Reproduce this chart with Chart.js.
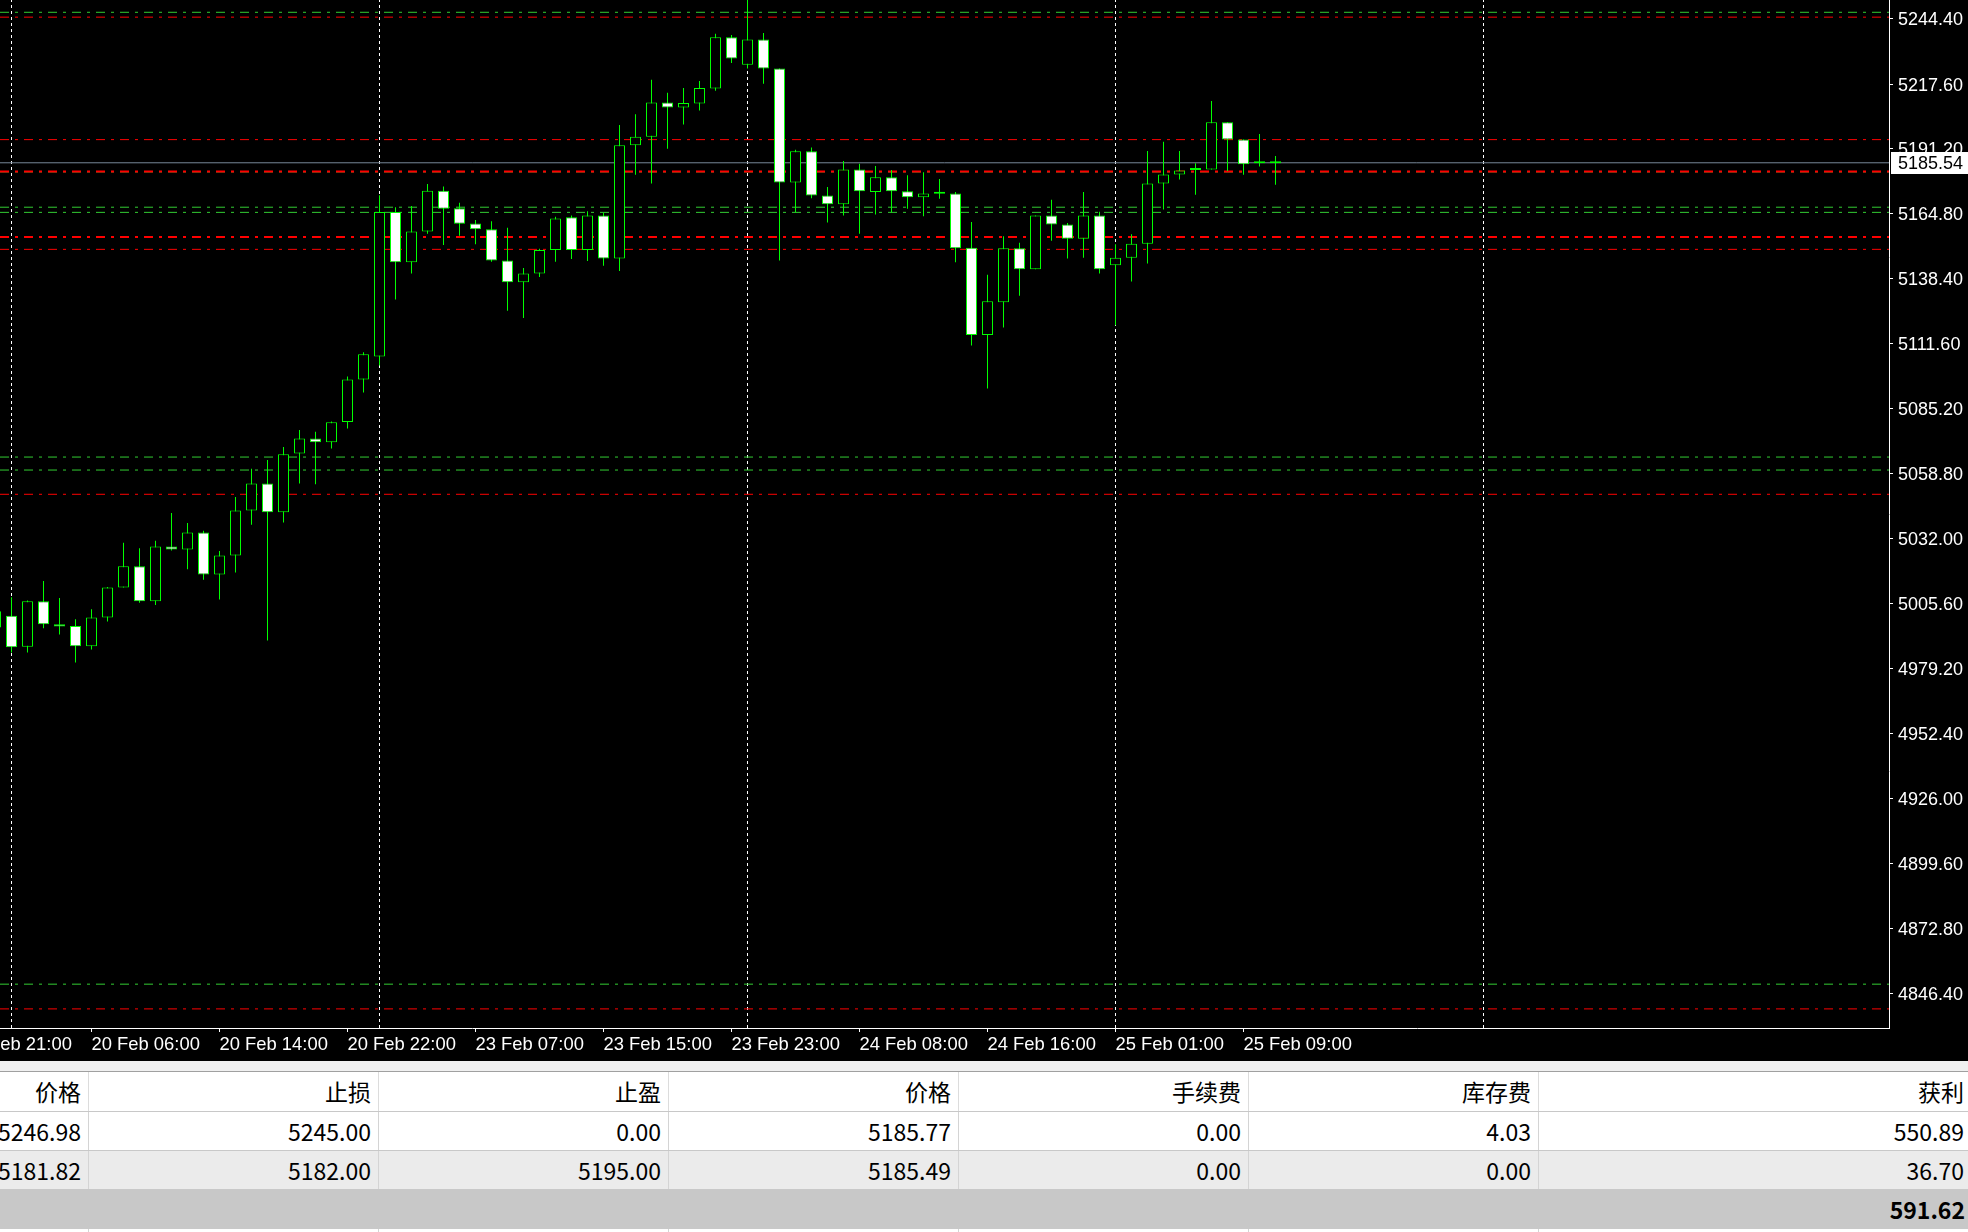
<!DOCTYPE html>
<html>
<head>
<meta charset="utf-8">
<script src="https://cdn.jsdelivr.net/npm/chart.js@4.4.1/dist/chart.umd.min.js"></script>
<style>
  html, body { margin: 0; padding: 0; background: #fff; overflow: hidden; }
  #wrap { position: absolute; left: 0; top: 0; width: 1968px; height: 1061px; background: #000; }
  #band { position: absolute; left: 0; top: 1061px; width: 1968px; height: 10px; background: #f0f0f0; border-bottom: 1px solid #a0a0a0; }
  #grid { position: absolute; left: 0; top: 1072px; width: 1968px; height: 160px; overflow: hidden; background: #fff;
          font-family: "Noto Sans CJK SC", sans-serif; font-size: 23px; color: #000; }
  .row { position: absolute; left: -201px; display: flex; width: 2173px; }
  .cell { flex: none; width: 290px; box-sizing: border-box; text-align: right; padding-right: 7px; white-space: nowrap; }
  .cell:last-child { width: 433px; }
  .hdr .cell { border-right: 1px solid #dcdcdc; }
  .dat .cell { border-right: 1px solid #d4d4d4; }
  .tot .cell { font-weight: bold; }
</style>
</head>
<body>
<div id="wrap"><canvas id="price-chart" width="1968" height="1061"></canvas></div>
<div id="band"></div>
<div id="grid"></div>

<script>
// ===== chart data =====

const FIRST_BAR = -1;   // bar index of the first candle (partly off screen)

const opens = [
  4995.8, 5000.6, 4988.0, 5006.5, 4997.1, 4996.4, 4988.2, 4999.9, 5012.1, 5020.8,
  5006.5, 5028.9, 5027.7, 5034.6, 5017.4, 5025.2, 5043.6, 5054.6, 5042.9, 5066.8,
  5073.0, 5071.4, 5079.7, 5097.1, 5106.5, 5165.4, 5144.9, 5157.5, 5174.1, 5167.0,
  5160.8, 5158.4, 5145.6, 5136.8, 5140.3, 5149.9, 5163.3, 5149.9, 5164.0, 5146.5,
  5192.7, 5196.2, 5210.2, 5208.1, 5209.7, 5215.9, 5236.8, 5225.6, 5235.9, 5224.0,
  5177.5, 5190.2, 5172.2, 5168.6, 5182.8, 5173.6, 5179.6, 5173.9, 5171.5, 5172.9,
  5173.0, 5150.9, 5115.2, 5128.6, 5150.6, 5142.1, 5164.0, 5160.3, 5154.5, 5164.0,
  5143.7, 5146.8, 5152.5, 5177.1, 5180.8, 5182.6, 5182.8, 5202.1, 5195.0, 5185.3,
  5185.4
];
const highs = [
  5004.0, 5008.2, 5006.8, 5014.8, 5007.9, 4999.2, 5003.3, 5012.3, 5030.4, 5028.2,
  5031.2, 5042.6, 5038.5, 5035.3, 5027.0, 5049.1, 5060.6, 5064.2, 5069.5, 5076.4,
  5075.7, 5079.9, 5098.3, 5108.2, 5172.3, 5167.4, 5167.9, 5176.9, 5175.9, 5169.2,
  5162.2, 5161.7, 5159.0, 5142.6, 5150.4, 5163.5, 5164.0, 5165.8, 5165.1, 5201.0,
  5205.4, 5219.4, 5214.1, 5216.1, 5218.9, 5238.2, 5237.7, 5253.0, 5238.5, 5224.0,
  5190.9, 5191.8, 5175.7, 5186.3, 5185.1, 5184.2, 5182.6, 5180.5, 5181.7, 5178.9,
  5173.6, 5161.4, 5139.8, 5155.5, 5152.9, 5164.0, 5170.4, 5161.0, 5173.6, 5165.6,
  5152.3, 5156.4, 5190.4, 5194.1, 5190.4, 5185.3, 5210.8, 5202.1, 5195.0, 5197.3,
  5188.3
];
const lows = [
  4994.0, 4985.6, 4985.6, 4995.5, 4993.0, 4981.5, 4986.8, 4998.3, 5012.1, 5005.9,
  5005.0, 5027.2, 5019.6, 5015.3, 5007.2, 5018.3, 5037.8, 4990.5, 5038.7, 5054.6,
  5054.3, 5068.9, 5077.1, 5091.8, 5102.8, 5129.7, 5140.3, 5156.6, 5152.0, 5155.7,
  5152.3, 5145.1, 5125.1, 5122.2, 5138.9, 5145.1, 5146.3, 5145.4, 5143.5, 5141.4,
  5180.7, 5177.1, 5191.3, 5201.2, 5206.9, 5215.0, 5226.3, 5224.0, 5217.8, 5145.6,
  5165.3, 5171.1, 5161.2, 5164.0, 5156.6, 5164.4, 5165.3, 5166.8, 5163.7, 5170.9,
  5144.9, 5110.9, 5093.4, 5118.3, 5131.3, 5142.1, 5153.7, 5146.5, 5146.8, 5140.3,
  5119.2, 5137.1, 5144.4, 5166.5, 5178.7, 5172.5, 5182.8, 5182.2, 5180.7, 5184.0,
  5176.6
];
const closes = [
  5002.4, 4987.7, 5006.5, 4997.1, 4996.2, 4988.2, 4999.9, 5012.1, 5020.8, 5006.5,
  5028.9, 5027.7, 5034.6, 5017.4, 5025.2, 5043.6, 5054.6, 5042.9, 5066.5, 5073.0,
  5071.4, 5079.6, 5097.1, 5107.4, 5165.4, 5144.9, 5157.5, 5174.1, 5166.8, 5160.7,
  5158.4, 5145.6, 5136.8, 5140.3, 5149.9, 5162.8, 5149.9, 5164.0, 5146.5, 5192.7,
  5196.2, 5210.2, 5208.1, 5209.9, 5216.1, 5236.8, 5228.1, 5235.9, 5224.0, 5177.5,
  5190.2, 5172.2, 5168.6, 5182.8, 5173.9, 5179.6, 5173.9, 5171.5, 5173.0, 5172.9,
  5150.6, 5115.2, 5129.0, 5150.6, 5142.1, 5164.0, 5160.3, 5154.5, 5164.0, 5142.1,
  5146.8, 5152.5, 5177.1, 5180.8, 5182.4, 5182.6, 5202.1, 5195.0, 5184.9, 5185.3,
  5185.54
];

const timeTickBars   = [-3, 5, 13, 21, 29, 37, 45, 53, 61, 69, 77];
const timeTickLabels = ['19 Feb 21:00', '20 Feb 06:00', '20 Feb 14:00', '20 Feb 22:00', '23 Feb 07:00',
                        '23 Feb 15:00', '23 Feb 23:00', '24 Feb 08:00', '24 Feb 16:00', '25 Feb 01:00', '25 Feb 09:00'];
const daySeparatorBars = [0, 23, 46, 69, 92];

const priceTicks = [5244.40, 5217.60, 5191.20, 5164.80, 5138.40, 5111.60, 5085.20, 5058.80,
                    5032.00, 5005.60, 4979.20, 4952.40, 4926.00, 4899.60, 4872.80, 4846.40];

const greenLevels = [5246.98, 5181.82, 5167.4, 5165.3, 5065.4, 5060.1, 4850.2];
const redLevels   = [5245.00, 5195.00, 5182.00, 5155.2, 5150.2, 5050.2, 4840.1];
const bidPrice    = 5185.54;

const tableHeaders = ['价格', '止损', '止盈', '价格', '手续费', '库存费', '获利'];
const tableRows = [
  ['5246.98', '5245.00', '0.00', '5185.77', '0.00', '4.03', '550.89'],
  ['5181.82', '5182.00', '5195.00', '5185.49', '0.00', '0.00', '36.70']
];
const tableTotal = ['', '', '', '', '', '', '591.62'];

// ===== layout of the axes =====

const X_MIN = -0.71875;
const X_MAX = 117.34375;
const Y_MIN = 4832.3;
const Y_MAX = 5252.0;

const LIME  = '#00ff00';
const DASHDOT = [9, 6, 3, 6];
const FONT_FAMILY = '"Liberation Sans", Arial, sans-serif';

// ===== table under the chart =====

function makeRow(cls, cells, top, height, bg) {
  const row = document.createElement('div');
  row.className = 'row ' + cls;
  row.style.top = top + 'px';
  row.style.height = height + 'px';
  row.style.background = bg;
  row.innerHTML = cells.map(function(c) {
    return `<div class="cell" style="line-height:${height}px;height:${height}px">${c}</div>`;
  }).join('');
  return row;
}

const grid = document.getElementById('grid');
grid.appendChild(makeRow('hdr', tableHeaders, 0, 39, '#fff'));
grid.appendChild(makeRow('dat', tableRows[0], 39, 39, '#fff'));
grid.appendChild(makeRow('dat', tableRows[1], 78, 39, '#ebebeb'));
grid.appendChild(makeRow('tot', tableTotal, 117, 40, '#c8c8c8'));
grid.appendChild(makeRow('dat', ['', '', '', '', '', '', ''], 157, 20, '#fff'));
grid.children[1].style.borderTop = '1px solid #c8c8c8';
grid.children[2].style.borderTop = '1px solid #c8c8c8';

// ===== chart =====

const barX = opens.map(function(o, i) { return FIRST_BAR + i; });
const wickData = barX.map(function(x, i) { return { x: x, y: [lows[i], highs[i]] }; });
const bodyData = barX.map(function(x, i) { return { x: x, y: [opens[i], closes[i]] }; });
const bodyFill = barX.map(function(x, i) { return closes[i] >= opens[i] ? '#000000' : '#ffffff'; });

function hLine(level, color, width, order) {
  return {
    type: 'line',
    data: [{ x: X_MIN, y: level }, { x: X_MAX, y: level }],
    borderColor: color,
    borderWidth: width,
    borderDash: DASHDOT,
    pointRadius: 0,
    tension: 0,
    order: order
  };
}

const datasets = [];

daySeparatorBars.forEach(function(b) {
  datasets.push({
    type: 'line',
    data: [{ x: b, y: Y_MIN }, { x: b, y: Y_MAX }],
    borderColor: '#ffffff',
    borderWidth: 1,
    borderDash: [3, 3],
    pointRadius: 0,
    order: 50
  });
});

greenLevels.forEach(function(v) { datasets.push(hLine(v, '#32cd32', 1, 40)); });
redLevels.forEach(function(v) {
  const bold = (v === 5182.00 || v === 5155.2);
  datasets.push(hLine(v, '#ff0000', bold ? 2 : 1, 30));
});

datasets.push({
  type: 'line',
  data: [{ x: X_MIN, y: bidPrice }, { x: X_MAX, y: bidPrice }],
  borderColor: '#778899',
  borderWidth: 1,
  pointRadius: 0,
  order: 20
});

datasets.push({
  type: 'bar',
  data: wickData,
  backgroundColor: LIME,
  borderWidth: 0,
  barThickness: 1,
  inflateAmount: 0,
  grouped: false,
  order: 2
});

datasets.push({
  type: 'bar',
  data: bodyData,
  backgroundColor: bodyFill,
  borderColor: LIME,
  borderWidth: 1,
  borderSkipped: false,
  barThickness: 11,
  minBarLength: 2,
  inflateAmount: 0,
  grouped: false,
  order: 1
});

const bidLabel = {
  id: 'bidLabel',
  afterDraw: function(chart) {
    const ctx = chart.ctx;
    const y = chart.scales.y.getPixelForValue(bidPrice);
    const left = chart.chartArea.right + 2;
    ctx.save();
    ctx.fillStyle = '#ffffff';
    ctx.fillRect(left, Math.round(y) - 11, 80, 22);
    ctx.fillStyle = '#000000';
    ctx.font = '18px ' + FONT_FAMILY;
    ctx.textBaseline = 'middle';
    ctx.textAlign = 'left';
    ctx.fillText(bidPrice.toFixed(2), chart.chartArea.right + 9, Math.round(y) + 1);
    ctx.restore();
  }
};

const chart = new Chart(document.getElementById('price-chart'), {
  type: 'bar',
  data: { datasets: datasets },
  plugins: [bidLabel],
  options: {
    responsive: false,
    animation: false,
    events: [],
    layout: { padding: 0, autoPadding: false },
    plugins: { legend: { display: false }, tooltip: { enabled: false } },
    scales: {
      x: {
        type: 'linear',
        position: 'bottom',
        min: X_MIN,
        max: X_MAX,
        offset: false,
        grid: { offset: false, drawOnChartArea: false, drawTicks: true, tickLength: 4, color: '#ffffff' },
        border: { display: true, color: '#ffffff', width: 1 },
        afterBuildTicks: function(s) { s.ticks = timeTickBars.map(function(v) { return { value: v }; }); },
        afterFit: function(s) { s.height = 33; s.paddingLeft = 0; s.paddingRight = 0; },
        ticks: {
          autoSkip: false,
          maxRotation: 0,
          minRotation: 0,
          align: 'start',
          padding: 2,
          color: '#ffffff',
          font: { family: FONT_FAMILY, size: 18.4 },
          callback: function(v, i) { return timeTickLabels[i]; }
        }
      },
      y: {
        type: 'linear',
        position: 'right',
        min: Y_MIN,
        max: Y_MAX,
        grid: { drawOnChartArea: false, drawTicks: true, tickLength: 4, color: '#ffffff' },
        border: { display: true, color: '#ffffff', width: 1 },
        afterBuildTicks: function(s) { s.ticks = priceTicks.map(function(v) { return { value: v }; }); },
        afterFit: function(s) { s.width = 79; s.paddingTop = 0; s.paddingBottom = 0; },
        ticks: {
          padding: 5,
          labelOffset: 1.5,
          color: '#ffffff',
          font: { family: FONT_FAMILY, size: 18 },
          callback: function(v) { return Number(v).toFixed(2); }
        }
      }
    }
  }
});
</script>
</body>
</html>
